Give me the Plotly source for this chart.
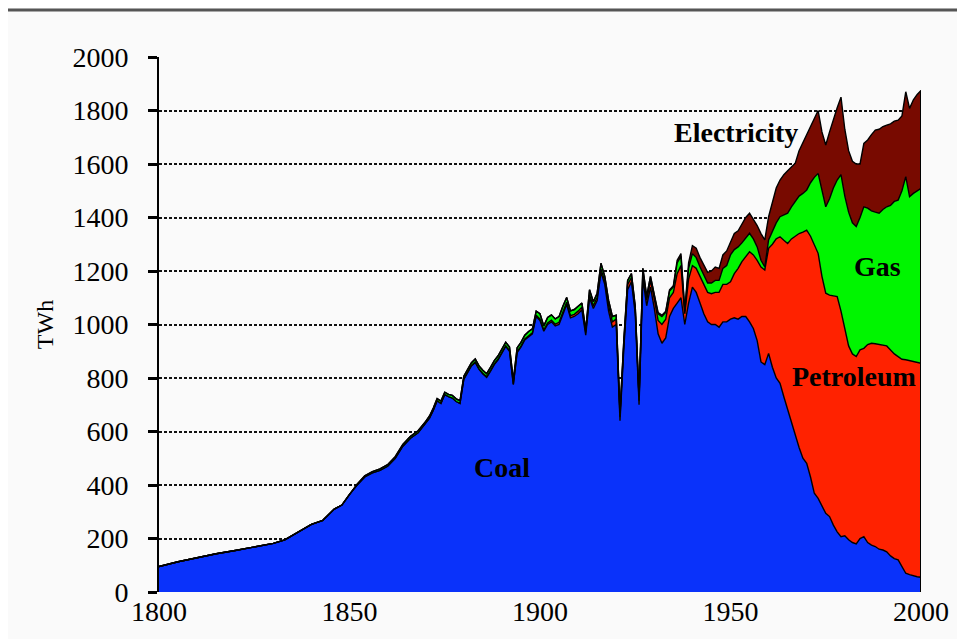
import plotly.graph_objects as go

# years: sparse before 1870, annual afterwards
years = [1800, 1805, 1810, 1815, 1820, 1825, 1830, 1833, 1836, 1840, 1843, 1846,
         1848, 1850, 1852, 1854, 1856, 1858, 1860, 1862, 1864, 1866, 1868, 1870] + list(range(1871, 2001))

# TWh per fuel (stacked: coal, petroleum, gas, electricity)
coal = [95, 113, 128, 143, 155, 168, 182, 195, 220, 253, 268, 310,
        325, 365, 400, 430, 445, 455, 470, 500, 545, 575, 595, 630,
        # 1871-1899
        650, 680, 715, 705, 738, 730, 725, 712, 705, 795, 820, 845, 858, 832, 815,
        802, 825, 850, 868, 895, 918, 900, 775, 895, 915, 942, 955, 965, 1030,
        # 1900-1949
        1015, 975, 1000, 1010, 995, 1000, 1040, 1075, 1025, 1030,
        1040, 1055, 960, 1100, 1060, 1090, 1195, 1150, 1050, 990,
        1000, 640, 910, 1130, 1160, 1040, 700, 1170, 1070, 1140,
        1060, 965, 930, 950, 1030, 1060, 1080, 1100, 1000, 1080,
        1140, 1120, 1080, 1040, 1010, 1000, 1000, 990, 1010, 1010,
        # 1950-2000
        1020, 1025, 1020, 1030, 1030, 1010, 985, 940, 860, 850,
        892, 840, 800, 780, 730, 680, 640, 580, 540, 500,
        481, 430, 369, 350, 320, 294, 282, 250, 225, 207,
        210, 195, 185, 180, 200, 207, 185, 175, 170, 160,
        157, 150, 135, 125, 120, 95, 70, 65, 60, 57, 55]

petroleum = [0] * 24 + [
        # 1871-1899
        0, 0, 0, 0, 0, 0, 0, 0, 0, 2, 2, 2, 2, 2, 3,
        3, 3, 3, 3, 3, 3, 3, 3, 4, 4, 4, 4, 4, 5,
        # 1900-1949
        5, 5, 6, 6, 6, 8, 8, 8, 8, 8,
        10, 10, 10, 10, 10, 12, 12, 12, 20, 20,
        20, 15, 15, 20, 15, 15, 15, 25, 20, 25,
        35, 50, 70, 70, 70, 60, 110, 120, 40, 90,
        80, 90, 100, 110, 110, 115, 120, 130, 140, 140,
        # 1950-2000
        140, 165, 190, 205, 225, 262, 275, 300, 355, 354,
        393, 460, 520, 548, 585, 623, 680, 750, 800, 845,
        872, 900, 931, 916, 860, 823, 828, 858, 879, 843,
        769, 725, 705, 700, 705, 704, 740, 755, 758, 765,
        766, 770, 770, 765, 760, 775, 798, 800, 800, 800, 800]

gas = [0] * 14 + [3, 4, 5, 5, 6, 6, 7, 7, 8, 8] + [
        # 1871-1899
        8, 8, 8, 9, 9, 9, 10, 10, 10, 10, 10, 10, 11, 11, 11,
        11, 12, 12, 12, 12, 13, 13, 13, 14, 14, 14, 15, 15, 15,
        # 1900-1949
        20, 15, 20, 20, 20, 22, 20, 18, 18, 18,
        18, 15, 10, 20, 15, 15, 22, 18, 20, 20,
        15, 15, 15, 15, 15, 12, 15, 15, 15, 15,
        15, 25, 30, 25, 25, 20, 40, 35, 10, 40,
        45, 40, 35, 35, 35, 40, 45, 45, 60, 70,
        # 1950-2000
        100, 90, 80, 70, 70, 69, 60, 50, 25, 11,
        31, 50, 60, 75, 95, 113, 120, 130, 140, 145,
        150, 200, 250, 299, 320, 323, 360, 402, 436, 510,
        501, 500, 490, 486, 495, 529, 510, 495, 492, 491,
        507, 520, 540, 570, 585, 630, 685, 613, 630, 643, 654]

electricity = [0] * 24 + [0] * 29 + [0] * 30 + [
        # 1930-1949
        2, 5, 5, 5, 5, 5, 10, 10, 5, 20,
        30, 35, 35, 40, 40, 45, 50, 45, 50, 55,
        # 1950-2000
        50, 60, 60, 70, 75, 75, 75, 80, 100, 101,
        87, 110, 130, 137, 150, 159, 150, 143, 170, 190,
        205, 210, 220, 235, 220, 231, 250, 260, 270, 290,
        250, 230, 230, 234, 200, 237, 255, 285, 307, 314,
        310, 305, 305, 300, 299, 280, 317, 330, 350, 360, 366]

series = [
    ('Coal', coal, '#0a32fa'),
    ('Petroleum', petroleum, '#ff2200'),
    ('Gas', gas, '#00f500'),
    ('Electricity', electricity, '#780a00'),
]

labels = [
    ('Coal', 1890, 467),
    ('Petroleum', 1982.5, 807),
    ('Gas', 1988.5, 1215),
    ('Electricity', 1951.5, 1716),
]

SERIF = 'Liberation Serif'

fig = go.Figure()
for name, vals, color in series:
    fig.add_trace(go.Scatter(
        x=years,
        y=vals,
        name=name,
        mode='lines',
        stackgroup='one',
        line=dict(color='black', width=1.4),
        fillcolor=color,
        hoverinfo='x+y+name'
    ))

# right-hand edge of the stacked area at the last year
total_last = coal[-1] + petroleum[-1] + gas[-1] + electricity[-1]
fig.add_trace(go.Scatter(
    x=[years[-1], years[-1]],
    y=[0, total_last],
    mode='lines',
    line=dict(color='black', width=2),
    showlegend=False,
    hoverinfo='skip'
))

for text, x, y in labels:
    fig.add_annotation(
        x=x, y=y, text='<b>%s</b>' % text, showarrow=False,
        font=dict(family=SERIF, size=28, color='black')
    )

# page rule along the top
fig.add_shape(type='line', xref='paper', yref='paper',
              x0=-0.21, x1=1.07, y0=1.088, y1=1.088,
              line=dict(color='#555555', width=3))

fig.update_layout(
    width=965,
    height=639,
    margin=dict(l=151, r=52, t=49, b=55),
    paper_bgcolor='#fafafa',
    plot_bgcolor='#fafafa',
    showlegend=False,
    font=dict(family=SERIF, size=24, color='black'),
    xaxis=dict(
        range=[1800, 2000],
        tickvals=[1800, 1850, 1900, 1950, 2000],
        showgrid=False,
        zeroline=False,
        showline=False,
        ticks='',
        tickfont=dict(family=SERIF, size=28),
    ),
    yaxis=dict(
        range=[0, 2000],
        tickvals=list(range(0, 2001, 200)),
        showgrid=True,
        gridcolor='#111111',
        gridwidth=1.6,
        griddash='3px,2px',
        zeroline=False,
        showline=True,
        linecolor='black',
        linewidth=2,
        ticks='outside',
        ticklen=9,
        tickwidth=3,
        tickcolor='black',
        ticklabelstandoff=14,
        tickfont=dict(family=SERIF, size=28),
        title=dict(text='TWh', font=dict(family=SERIF, size=24), standoff=12),
    ),
)

fig.write_html("out.html")
